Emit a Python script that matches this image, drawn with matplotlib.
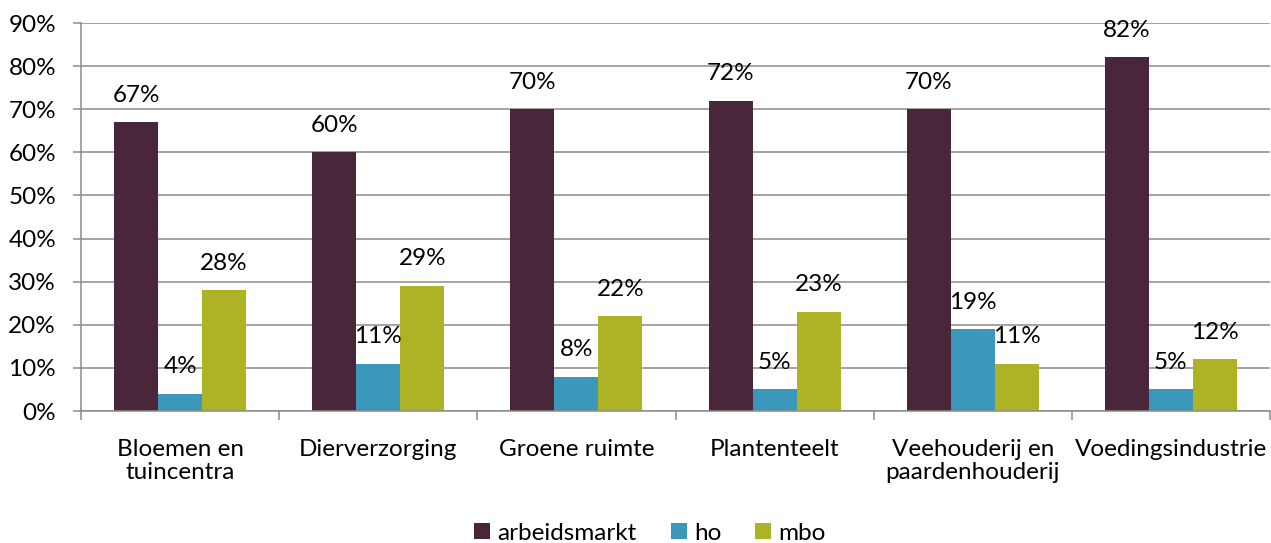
import matplotlib
matplotlib.use("Agg")
import matplotlib.pyplot as plt
from matplotlib.ticker import FixedLocator, PercentFormatter
from matplotlib.patches import Patch
import numpy as np

categories = ["Bloemen en\ntuincentra", "Dierverzorging", "Groene ruimte",
              "Plantenteelt", "Veehouderij en\npaardenhouderij", "Voedingsindustrie"]
series_names = ["arbeidsmarkt", "ho", "mbo"]
arbeidsmarkt = [67, 60, 70, 72, 70, 82]
ho = [4, 11, 8, 5, 19, 5]
mbo = [28, 29, 22, 23, 11, 12]
colors = ["#4A263A", "#3B98BB", "#AEB325"]

plt.rcParams['font.family'] = ['Lato', 'DejaVu Sans']
fs = 17.5

fig = plt.figure(figsize=(12.71, 5.43), dpi=100)
ax = fig.add_axes([81/1271, 1-411/543, (1270-81)/1271, (411-23)/543])

x = np.arange(len(categories))
w = 0.222
for i, (vals, c) in enumerate(zip([arbeidsmarkt, ho, mbo], colors)):
    xs = x + (i - 1) * w
    ax.bar(xs, vals, width=w, color=c, zorder=3)
    for xi, v in zip(xs, vals):
        ax.annotate(f"{v}%", (xi, v), xytext=(0, 19.5), textcoords="offset points",
                    ha="center", va="center", fontsize=fs, color="black", zorder=4)

ax.set_xlim(-0.5, len(categories) - 0.5)
ax.set_ylim(0, 90)
ax.yaxis.set_major_locator(FixedLocator(np.arange(0, 91, 10)))
ax.yaxis.set_major_formatter(PercentFormatter(decimals=0))
ax.grid(axis="y", color="#8C8C8C", linewidth=1.1, zorder=0)
ax.set_axisbelow(True)

ax.set_xticks(x)
ax.set_xticklabels(categories, fontsize=fs, linespacing=1.15)
ax.tick_params(axis="x", which="major", length=0, pad=20)
ax.set_xticks(np.arange(-0.5, len(categories), 1), minor=True)
ax.tick_params(axis="x", which="minor", length=6.5, color="#8C8C8C", width=1.1, direction="out")
ax.tick_params(axis="y", length=6, color="#8C8C8C", width=1.1, pad=12, labelsize=fs)

for s in ["top", "right"]:
    ax.spines[s].set_visible(False)
for s in ["left", "bottom"]:
    ax.spines[s].set_color("#8C8C8C")
    ax.spines[s].set_linewidth(1.1)
    ax.spines[s].set_zorder(5)

handles = [Patch(facecolor=c, label=n) for c, n in zip(colors, series_names)]
fig.legend(handles=handles, loc="center", bbox_to_anchor=(650/1271, 1-533/543), ncol=3,
           frameon=False, fontsize=fs, handlelength=0.65, handleheight=0.65,
           handletextpad=0.3, columnspacing=1.4)

fig.savefig("out.png", dpi=100)
